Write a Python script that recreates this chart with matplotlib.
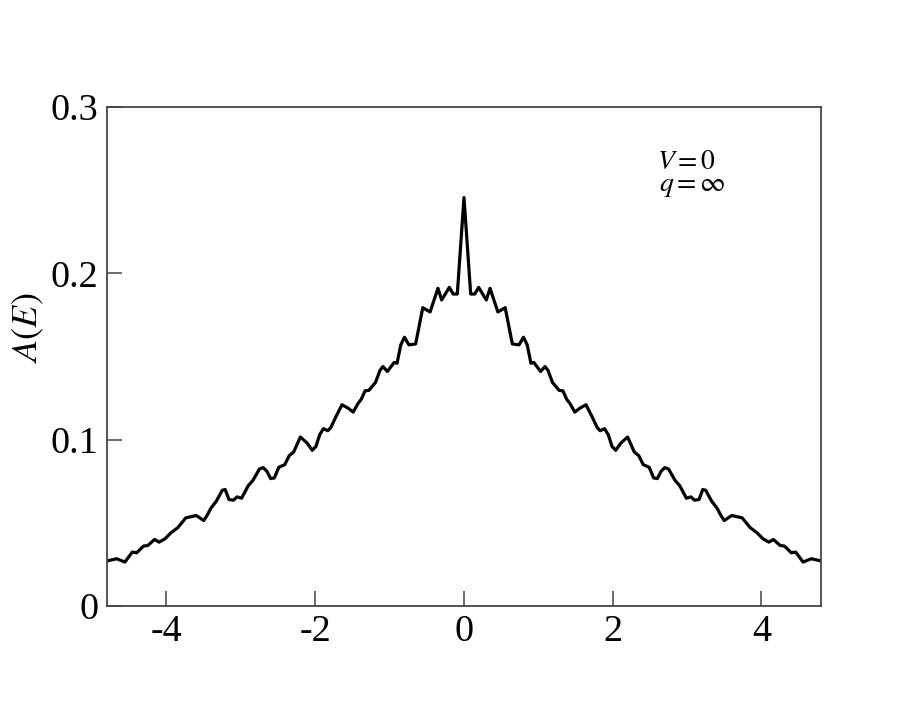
import matplotlib.pyplot as plt

plt.rcParams['font.family'] = 'Liberation Serif'
plt.rcParams['mathtext.fontset'] = 'stix'

# spectral function (symmetric about E = 0)
E = [-4.81, -4.67, -4.56, -4.46, -4.40, -4.31, -4.25, -4.16, -4.10, -4.02,
     -3.94, -3.85, -3.74, -3.60, -3.50, -3.46, -3.40, -3.33, -3.25, -3.21,
     -3.16, -3.10, -3.05, -2.99, -2.90, -2.84, -2.75, -2.70, -2.65, -2.60,
     -2.55, -2.49, -2.41, -2.35, -2.29, -2.20, -2.11, -2.04, -1.99, -1.94,
     -1.89, -1.83, -1.79, -1.72, -1.64, -1.56, -1.49, -1.43, -1.38, -1.33,
     -1.28, -1.19, -1.13, -1.09, -1.03, -0.94, -0.90, -0.85, -0.80, -0.74,
     -0.65, -0.554, -0.456, -0.35, -0.30, -0.197, -0.145, -0.09,
     0.0,
     0.09, 0.145, 0.197, 0.30, 0.35, 0.456, 0.554, 0.65,
     0.74, 0.80, 0.85, 0.90, 0.94, 1.03, 1.09, 1.13, 1.19, 1.28,
     1.33, 1.38, 1.43, 1.49, 1.56, 1.64, 1.72, 1.79, 1.83, 1.89,
     1.94, 1.99, 2.04, 2.11, 2.20, 2.29, 2.35, 2.41, 2.49, 2.55,
     2.60, 2.65, 2.70, 2.75, 2.84, 2.90, 2.99, 3.05, 3.10, 3.16,
     3.21, 3.25, 3.33, 3.40, 3.46, 3.50, 3.60, 3.74, 3.85, 3.94,
     4.02, 4.10, 4.16, 4.25, 4.31, 4.40, 4.46, 4.56, 4.67, 4.81]
A = [0.0270, 0.0284, 0.0264, 0.0324, 0.0320, 0.0360, 0.0364, 0.0400, 0.0384, 0.0404,
     0.0440, 0.0470, 0.0530, 0.0544, 0.0514, 0.0540, 0.0590, 0.0630, 0.0696, 0.0700,
     0.0640, 0.0636, 0.0656, 0.0648, 0.0724, 0.0754, 0.0824, 0.0832, 0.0810, 0.0766,
     0.0770, 0.0834, 0.0850, 0.0904, 0.0926, 0.1016, 0.0980, 0.0936, 0.0960, 0.1030,
     0.1066, 0.1054, 0.1074, 0.1140, 0.1210, 0.1190, 0.1166, 0.1214, 0.1244, 0.1294,
     0.1296, 0.1344, 0.1416, 0.1440, 0.1410, 0.1464, 0.1460, 0.1570, 0.1616, 0.1570,
     0.1576, 0.1794, 0.1768, 0.1910, 0.1840, 0.1916, 0.1876, 0.1876,
     0.2456,
     0.1876, 0.1876, 0.1916, 0.1840, 0.1910, 0.1768, 0.1794, 0.1576,
     0.1570, 0.1616, 0.1570, 0.1460, 0.1464, 0.1410, 0.1440, 0.1416, 0.1344, 0.1296,
     0.1294, 0.1244, 0.1214, 0.1166, 0.1190, 0.1210, 0.1140, 0.1074, 0.1054, 0.1066,
     0.1030, 0.0960, 0.0936, 0.0980, 0.1016, 0.0926, 0.0904, 0.0850, 0.0834, 0.0770,
     0.0766, 0.0810, 0.0832, 0.0824, 0.0754, 0.0724, 0.0648, 0.0656, 0.0636, 0.0640,
     0.0700, 0.0696, 0.0630, 0.0590, 0.0540, 0.0514, 0.0544, 0.0530, 0.0470, 0.0440,
     0.0404, 0.0384, 0.0400, 0.0364, 0.0360, 0.0320, 0.0324, 0.0264, 0.0284, 0.0270]

xticks = [-4, -2, 0, 2, 4]
xticklabels = ['-4', '-2', '0', '2', '4']
yticks = [0, 0.1, 0.2, 0.3]
yticklabels = ['0', '0.1', '0.2', '0.3']

fig = plt.figure(figsize=(9.24, 7.14), dpi=100)
ax = fig.add_axes([0.1158, 0.1513, 0.7727, 0.6987])

ax.plot(E, A, color='black', lw=2.3)

ax.set_xlim(-4.8, 4.8)
ax.set_ylim(0, 0.3)
ax.set_xticks(xticks)
ax.set_xticklabels(xticklabels)
ax.set_yticks(yticks)
ax.set_yticklabels(yticklabels)
ax.tick_params(direction='in', length=11, width=1.1, labelsize=27.5,
               color='#444444', pad=6)
for s in ax.spines.values():
    s.set_color('#444444')
    s.set_linewidth(1.3)

ax.set_ylabel(r'$A(E)$', fontsize=26)
ax.yaxis.set_label_coords(-0.085, 0.557)

ax.text(0.812, 0.876, r'$V = 0$', transform=ax.transAxes, fontsize=20,
        ha='center', va='baseline')
ax.text(0.82, 0.832, r'$q = \infty$', transform=ax.transAxes, fontsize=20,
        ha='center', va='baseline')

fig.savefig('out.png', dpi=100)
